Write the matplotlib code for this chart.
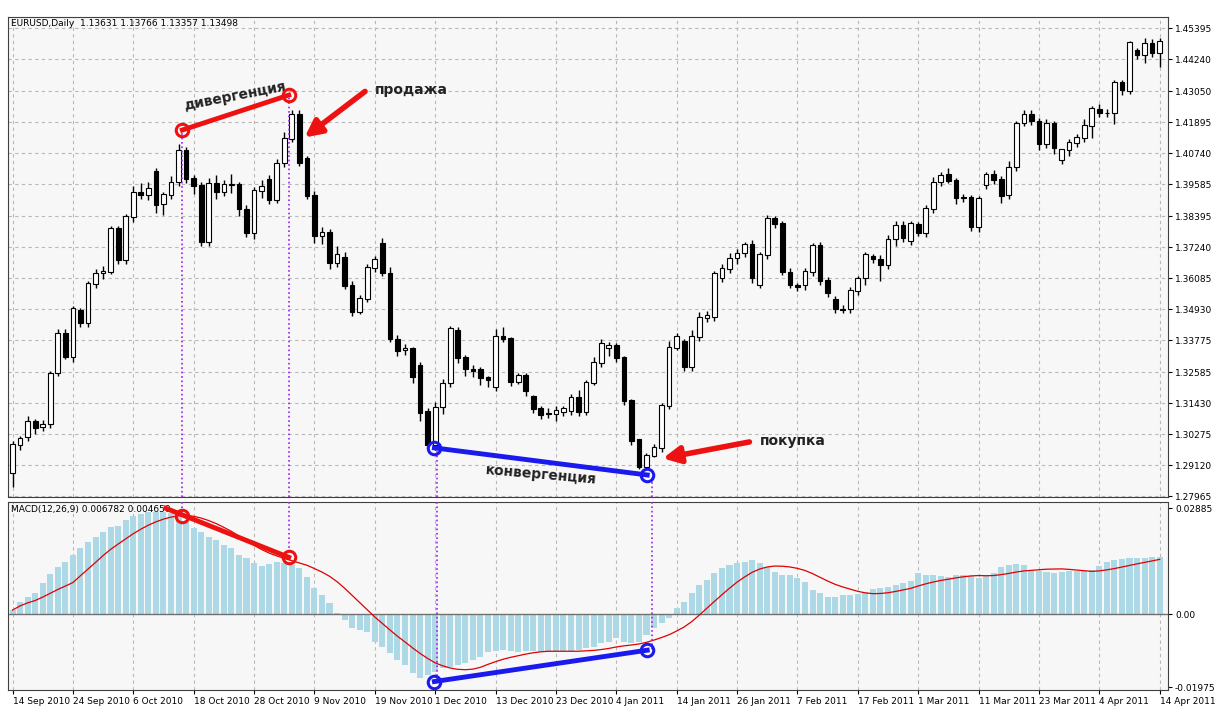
import numpy as np
import matplotlib
matplotlib.use("Agg")
import matplotlib.pyplot as plt

plt.rcParams['font.family'] = ['DejaVu Sans']

# дневные свечи EURUSD (open / close)
opens = [1.2881, 1.2987, 1.3018, 1.3074, 1.3055, 1.3064, 1.3254, 1.3403, 1.3316, 1.3486,
         1.3442, 1.3586, 1.3626, 1.3632, 1.3791, 1.3676, 1.3837, 1.3928, 1.3918, 1.4005,
         1.3884, 1.3918, 1.3965, 1.4082, 1.3977, 1.3951, 1.3744, 1.3961, 1.3928, 1.3955,
         1.3958, 1.3862, 1.3775, 1.3933, 1.3974, 1.3899, 1.4036, 1.4126, 1.4216, 1.4054,
         1.3914, 1.3766, 1.3777, 1.3663, 1.3686, 1.3579, 1.3483, 1.3531, 1.3647, 1.3738,
         1.3626, 1.3380, 1.3341, 1.3347, 1.3281, 1.3111, 1.2987, 1.3127, 1.3217, 1.3411,
         1.3312, 1.3269, 1.3266, 1.3237, 1.3204, 1.3390, 1.3384, 1.3223, 1.3245, 1.3167,
         1.3121, 1.3105, 1.3101, 1.3109, 1.3113, 1.3163, 1.3109, 1.3219, 1.3293, 1.3349,
         1.3356, 1.3312, 1.3152, 1.3005, 1.2906, 1.2947, 1.2974, 1.3132, 1.3349, 1.3372,
         1.3278, 1.3390, 1.3461, 1.3465, 1.3610, 1.3642, 1.3682, 1.3701, 1.3734, 1.3583,
         1.3694, 1.3828, 1.3810, 1.3630, 1.3580, 1.3583, 1.3632, 1.3728, 1.3598, 1.3527,
         1.3492, 1.3492, 1.3561, 1.3608, 1.3688, 1.3678, 1.3657, 1.3753, 1.3805, 1.3748,
         1.3809, 1.3777, 1.3866, 1.3965, 1.3995, 1.3971, 1.3908, 1.3908, 1.3800, 1.3955,
         1.3995, 1.3974, 1.3918, 1.4021, 1.4185, 1.4218, 1.4191, 1.4107, 1.4185, 1.4048,
         1.4085, 1.4113, 1.4131, 1.4176, 1.4237, 1.4222, 1.4222, 1.4336, 1.4306, 1.4455,
         1.4439, 1.4483, 1.4446]
closes = [1.2987, 1.3012, 1.3074, 1.3049, 1.3061, 1.3254, 1.3403, 1.3316, 1.3496, 1.3442,
          1.3589, 1.3626, 1.3632, 1.3791, 1.3676, 1.3837, 1.3928, 1.3918, 1.3943, 1.3881,
          1.3918, 1.3965, 1.4082, 1.3977, 1.3952, 1.3744, 1.3961, 1.3928, 1.3958, 1.3955,
          1.3865, 1.3775, 1.3933, 1.3949, 1.3899, 1.4036, 1.4126, 1.4216, 1.4036, 1.3914,
          1.3766, 1.3777, 1.3663, 1.3694, 1.3579, 1.3483, 1.3531, 1.3647, 1.3676, 1.3626,
          1.3380, 1.3338, 1.3347, 1.3241, 1.3105, 1.2987, 1.3127, 1.3217, 1.3419, 1.3312,
          1.3269, 1.3264, 1.3237, 1.3228, 1.3390, 1.3382, 1.3223, 1.3245, 1.3188, 1.3121,
          1.3099, 1.3101, 1.3113, 1.3121, 1.3163, 1.3109, 1.3219, 1.3295, 1.3366, 1.3356,
          1.3312, 1.3152, 1.3003, 1.2906, 1.2947, 1.2977, 1.3132, 1.3349, 1.3390, 1.3278,
          1.3390, 1.3461, 1.3470, 1.3624, 1.3645, 1.3682, 1.3701, 1.3732, 1.3610, 1.3694,
          1.3828, 1.3809, 1.3630, 1.3583, 1.3574, 1.3632, 1.3728, 1.3598, 1.3554, 1.3492,
          1.3490, 1.3561, 1.3608, 1.3697, 1.3678, 1.3657, 1.3753, 1.3805, 1.3757, 1.3812,
          1.3777, 1.3866, 1.3965, 1.3990, 1.3971, 1.3906, 1.3906, 1.3800, 1.3906, 1.3995,
          1.3974, 1.3915, 1.4021, 1.4185, 1.4218, 1.4193, 1.4107, 1.4185, 1.4092, 1.4085,
          1.4113, 1.4131, 1.4176, 1.4241, 1.4222, 1.4222, 1.4336, 1.4309, 1.4486, 1.4439,
          1.4483, 1.4446, 1.4489]
# тени свечей (в единицах 0.001)
wick_up = [1.5, 1, 2, 1, 2, 1, 1.5, 1.5, 1, 1, 1, 1.5, 2, 1, 1, 1, 2.5, 3.5, 2.5, 1.5,
           1, 2.5, 2.5, 1.5, 1.5, 1.5, 2, 3, 1.5, 4, 1, 2, 1.5, 2.5, 2, 1.5, 2.5, 2, 2, 1,
           2, 2, 1.5, 3.5, 2, 2, 1.5, 1.5, 1.5, 2, 2.5, 1.5, 1.5, 0.5, 1.5, 1.5, 2, 1.5, 1, 1.5,
           1, 1.5, 1, 0.5, 3, 3.5, 0.5, 1, 1, 0.5, 1, 2, 2, 1, 1.5, 3, 1, 2, 1.5, 1.5,
           1, 0.5, 0.5, 0.5, 1, 1.5, 1, 2.5, 1.5, 1, 2.5, 2, 1.5, 1, 1.5, 2, 1.5, 1, 1.5, 1,
           1.5, 1, 1, 1.5, 1, 1.5, 1, 1.5, 1.5, 1.5, 1.5, 1.5, 1, 1, 1, 1.5, 1.5, 1.5, 1.5, 1,
           1, 1.5, 2, 1.5, 2.5, 1, 1.5, 1, 1, 1, 1.5, 1.5, 2.5, 1, 1.5, 1.5, 1.5, 1.5, 1, 0.5,
           1.5, 1.5, 2.5, 1, 2, 1.5, 1, 1, 0.5, 1, 2, 1.5, 1.5]
wick_dn = [5, 2, 1.5, 2, 1.5, 1.5, 1, 1, 2, 1.5, 1.5, 1.5, 2, 1, 1.5, 1.5, 2, 1.5, 2, 3,
           4, 1.5, 1.5, 1.5, 3, 1.5, 1.5, 2.5, 1.5, 3, 2.5, 1.5, 2, 2.5, 1.5, 1, 1.5, 1, 1, 1,
           2.5, 3, 2, 1.5, 1, 1.5, 1, 1, 1.5, 1, 1, 2, 2, 2.5, 3, 1.5, 2, 2.5, 1.5, 2,
           2.5, 2.5, 2.5, 2.5, 1.5, 1, 1.5, 1, 2, 1.5, 1.5, 1.5, 2.5, 1.5, 1.5, 1.5, 1, 1, 1.5, 3,
           1.5, 1.5, 1.5, 1, 1, 0.5, 1.5, 1, 1, 1.5, 1.5, 1.5, 1.5, 1.5, 1.5, 1.5, 2, 1.5, 2, 1,
           1.5, 1.5, 1, 1, 1.5, 2, 1.5, 1.5, 1.5, 1.5, 1, 1.5, 1.5, 2.5, 1.5, 6, 1.5, 2.5, 1.5, 1.5,
           1, 1.5, 1.5, 1.5, 1, 2, 1.5, 1.5, 2, 1.5, 1.5, 2.5, 1.5, 1.5, 1, 1.5, 2, 1.5, 2, 1.5,
           2, 1.5, 1.5, 4.5, 1.5, 1.5, 4, 2, 1, 1.5, 3, 1.5, 5]

# гистограмма MACD (в единицах 0.001)
macd_hist = [1.18, 3.44, 4.79, 5.70, 8.41, 10.94, 12.93, 14.28, 16.09, 17.90,
             19.71, 21.06, 22.42, 23.59, 23.96, 25.58, 26.76, 27.21, 27.66, 27.84,
             27.66, 27.39, 26.49, 25.31, 23.32, 22.42, 21.06, 20.16, 18.80, 17.90,
             16.09, 15.19, 13.83, 13.20, 13.56, 14.28, 13.83, 13.38, 12.66, 10.22,
             7.05, 5.24, 2.98, 0.27, -1.54, -3.80, -4.25, -4.70, -7.41, -8.77,
             -10.58, -12.38, -13.74, -16.00, -17.36, -16.45, -15.55, -14.64, -14.19, -13.74,
             -13.29, -12.38, -11.48, -10.12, -9.94, -9.67, -9.94, -10.12, -9.94, -9.94,
             -10.12, -10.12, -10.12, -9.94, -9.94, -9.67, -9.22, -8.77, -7.86, -7.41,
             -6.51, -7.41, -7.86, -7.41, -5.60, -3.80, -2.44, -1.08, 1.63, 3.44,
             5.70, 7.96, 9.31, 11.12, 12.48, 13.38, 13.83, 14.28, 14.74, 13.83,
             12.93, 11.57, 10.67, 10.67, 9.94, 8.68, 6.60, 5.70, 4.79, 4.79,
             5.24, 5.24, 5.42, 6.15, 6.78, 7.05, 7.50, 7.96, 8.41, 9.04,
             11.12, 10.67, 10.67, 10.49, 10.22, 10.67, 10.67, 10.49, 9.94, 10.67,
             11.12, 12.93, 13.38, 13.65, 13.38, 12.02, 11.75, 11.57, 11.12, 11.39,
             11.75, 11.75, 11.75, 12.02, 13.20, 14.28, 14.74, 15.01, 15.37, 15.37,
             15.40, 15.50, 15.50]

date_labels = ['14 Sep 2010', '24 Sep 2010', '6 Oct 2010', '18 Oct 2010', '28 Oct 2010',
               '9 Nov 2010', '19 Nov 2010', '1 Dec 2010', '13 Dec 2010', '23 Dec 2010',
               '4 Jan 2011', '14 Jan 2011', '26 Jan 2011', '7 Feb 2011', '17 Feb 2011',
               '1 Mar 2011', '11 Mar 2011', '23 Mar 2011', '4 Apr 2011', '14 Apr 2011']
price_ticks = [1.27965, 1.29120, 1.30275, 1.31430, 1.32585, 1.33775, 1.34930, 1.36085,
               1.37240, 1.38395, 1.39585, 1.40740, 1.41895, 1.43050, 1.44240, 1.45395]

o = np.array(opens)
c = np.array(closes)
hi = np.maximum(o, c) + np.array(wick_up) / 1000
lo = np.minimum(o, c) - np.array(wick_dn) / 1000
x = np.arange(len(c))
hist = np.array(macd_hist) / 1000
# сигнальная линия: SMA(9) от MACD
signal = np.array([hist[max(0, i - 8):i + 1].mean() for i in range(len(hist))])

W, H = 1215, 719
fig = plt.figure(figsize=(W / 100, H / 100), dpi=100, facecolor='white')
ax = fig.add_axes([8 / W, (H - 497) / H, 1160 / W, 480 / H], facecolor='#f7f7f7')
ax2 = fig.add_axes([8 / W, (H - 690) / H, 1160 / W, 188 / H], facecolor='#f7f7f7')

# свечи
up = c >= o
ax.vlines(x, lo, hi, color='black', lw=1, zorder=2)
ax.bar(x, np.abs(c - o) + 0.00025, bottom=np.minimum(o, c), width=0.62,
       color=np.where(up, 'white', 'black'), edgecolor='black', lw=0.8, zorder=3)

ax.set_xlim(-0.6, 153.1)
ax.set_ylim(1.2793, 1.4581)
ax.set_yticks(price_ticks)
ax.set_yticklabels(['%.5f' % p for p in price_ticks])
ax.yaxis.tick_right()
ax.set_xticks(np.arange(0, 153, 8))
ax.set_xticklabels([])
ax.grid(True, color='#b8b8b8', ls=(0, (3, 3)), lw=0.8)
ax.tick_params(axis='y', labelsize=6.5, length=3, pad=2)
ax.tick_params(axis='x', length=0)
ax.text(0.003, 0.995, 'EURUSD,Daily  1.13631 1.13766 1.13357 1.13498', transform=ax.transAxes,
        fontsize=6.5, va='top', ha='left')

# MACD
ax2.bar(np.arange(len(hist)), hist, width=0.8, color='#add8e6', zorder=2)
ax2.plot(np.arange(len(hist)), signal, color='#e00000', lw=0.9, zorder=3)
ax2.axhline(0, color='#707070', lw=1, zorder=2)
ax2.set_xlim(-0.6, 153.1)
ax2.set_ylim(-0.0205, 0.0305)
ax2.set_yticks([-0.01975, 0.0, 0.02885])
ax2.set_yticklabels(['-0.01975', '0.00', '0.02885'])
ax2.yaxis.tick_right()
ax2.set_xticks(np.arange(0, 153, 8))
ax2.set_xticklabels(date_labels)
ax2.grid(True, axis='x', color='#b8b8b8', ls=(0, (3, 3)), lw=0.8)
ax2.tick_params(axis='both', labelsize=6.5, length=3, pad=2)
for lab in ax2.get_xticklabels():
    lab.set_horizontalalignment('left')
ax2.text(0.003, 0.985, 'MACD(12,26,9) 0.006782 0.004650', transform=ax2.transAxes,
         fontsize=6.5, va='top', ha='left')

for a in (ax, ax2):
    for s in a.spines.values():
        s.set_color('#404040')

# дивергенция / конвергенция
div_x = [22.5, 36.6]
div_p = [1.4160, 1.4290]
div_m = [0.0268, 0.0155]
conv_x = [55.9, 84.1]
conv_p = [1.2976, 1.2875]
conv_m = [-0.0182, -0.0097]

ax.plot(div_x, div_p, color='#ee1111', lw=3.5, zorder=5)
ax.plot(div_x, div_p, 'o', ms=9, mfc='none', mec='#ee1111', mew=2.2, zorder=6)
ax.plot(conv_x, conv_p, color='#1a1aee', lw=3.5, zorder=5)
ax.plot(conv_x, conv_p, 'o', ms=9, mfc='none', mec='#1a1aee', mew=2.2, zorder=6)
ax2.plot([20.3, div_x[1]], [0.0288, div_m[1]], color='#ee1111', lw=3.5, zorder=5)
ax2.plot(div_x, div_m, 'o', ms=9, mfc='none', mec='#ee1111', mew=2.2, zorder=6)
ax2.plot(conv_x, conv_m, color='#1a1aee', lw=3.5, zorder=5)
ax2.plot(conv_x, conv_m, 'o', ms=9, mfc='none', mec='#1a1aee', mew=2.2, zorder=6)

for xv, pv, mv in zip(div_x + [conv_x[0] + 0.3, conv_x[1] + 0.6], div_p + conv_p, div_m + conv_m):
    ax.plot([xv, xv], [1.2793, pv], color='#9922ee', ls=':', lw=1.2, zorder=4)
    ax2.plot([xv, xv], [0.0305, mv], color='#9922ee', ls=':', lw=1.2, zorder=4)

ax.text(29.5, 1.4285, 'дивергенция', fontsize=10, fontweight='bold', rotation=11,
        ha='center', va='center', color='#222222')
ax.text(70, 1.2875, 'конвергенция', fontsize=10, fontweight='bold', rotation=-5,
        ha='center', va='center', color='#222222')
ax.text(48, 1.4310, 'продажа', fontsize=10, fontweight='bold', color='#222222', va='center')
ax.text(99, 1.3000, 'покупка', fontsize=10, fontweight='bold', color='#222222', va='center')
ax.annotate('', xy=(38.4, 1.4126), xytext=(47, 1.4310),
            arrowprops=dict(arrowstyle='-|>,head_width=0.5,head_length=1.0', color='#ee1111', lw=4))
ax.annotate('', xy=(85.8, 1.2935), xytext=(98, 1.3000),
            arrowprops=dict(arrowstyle='-|>,head_width=0.5,head_length=1.0', color='#ee1111', lw=4))

fig.savefig('out.png', dpi=100)
